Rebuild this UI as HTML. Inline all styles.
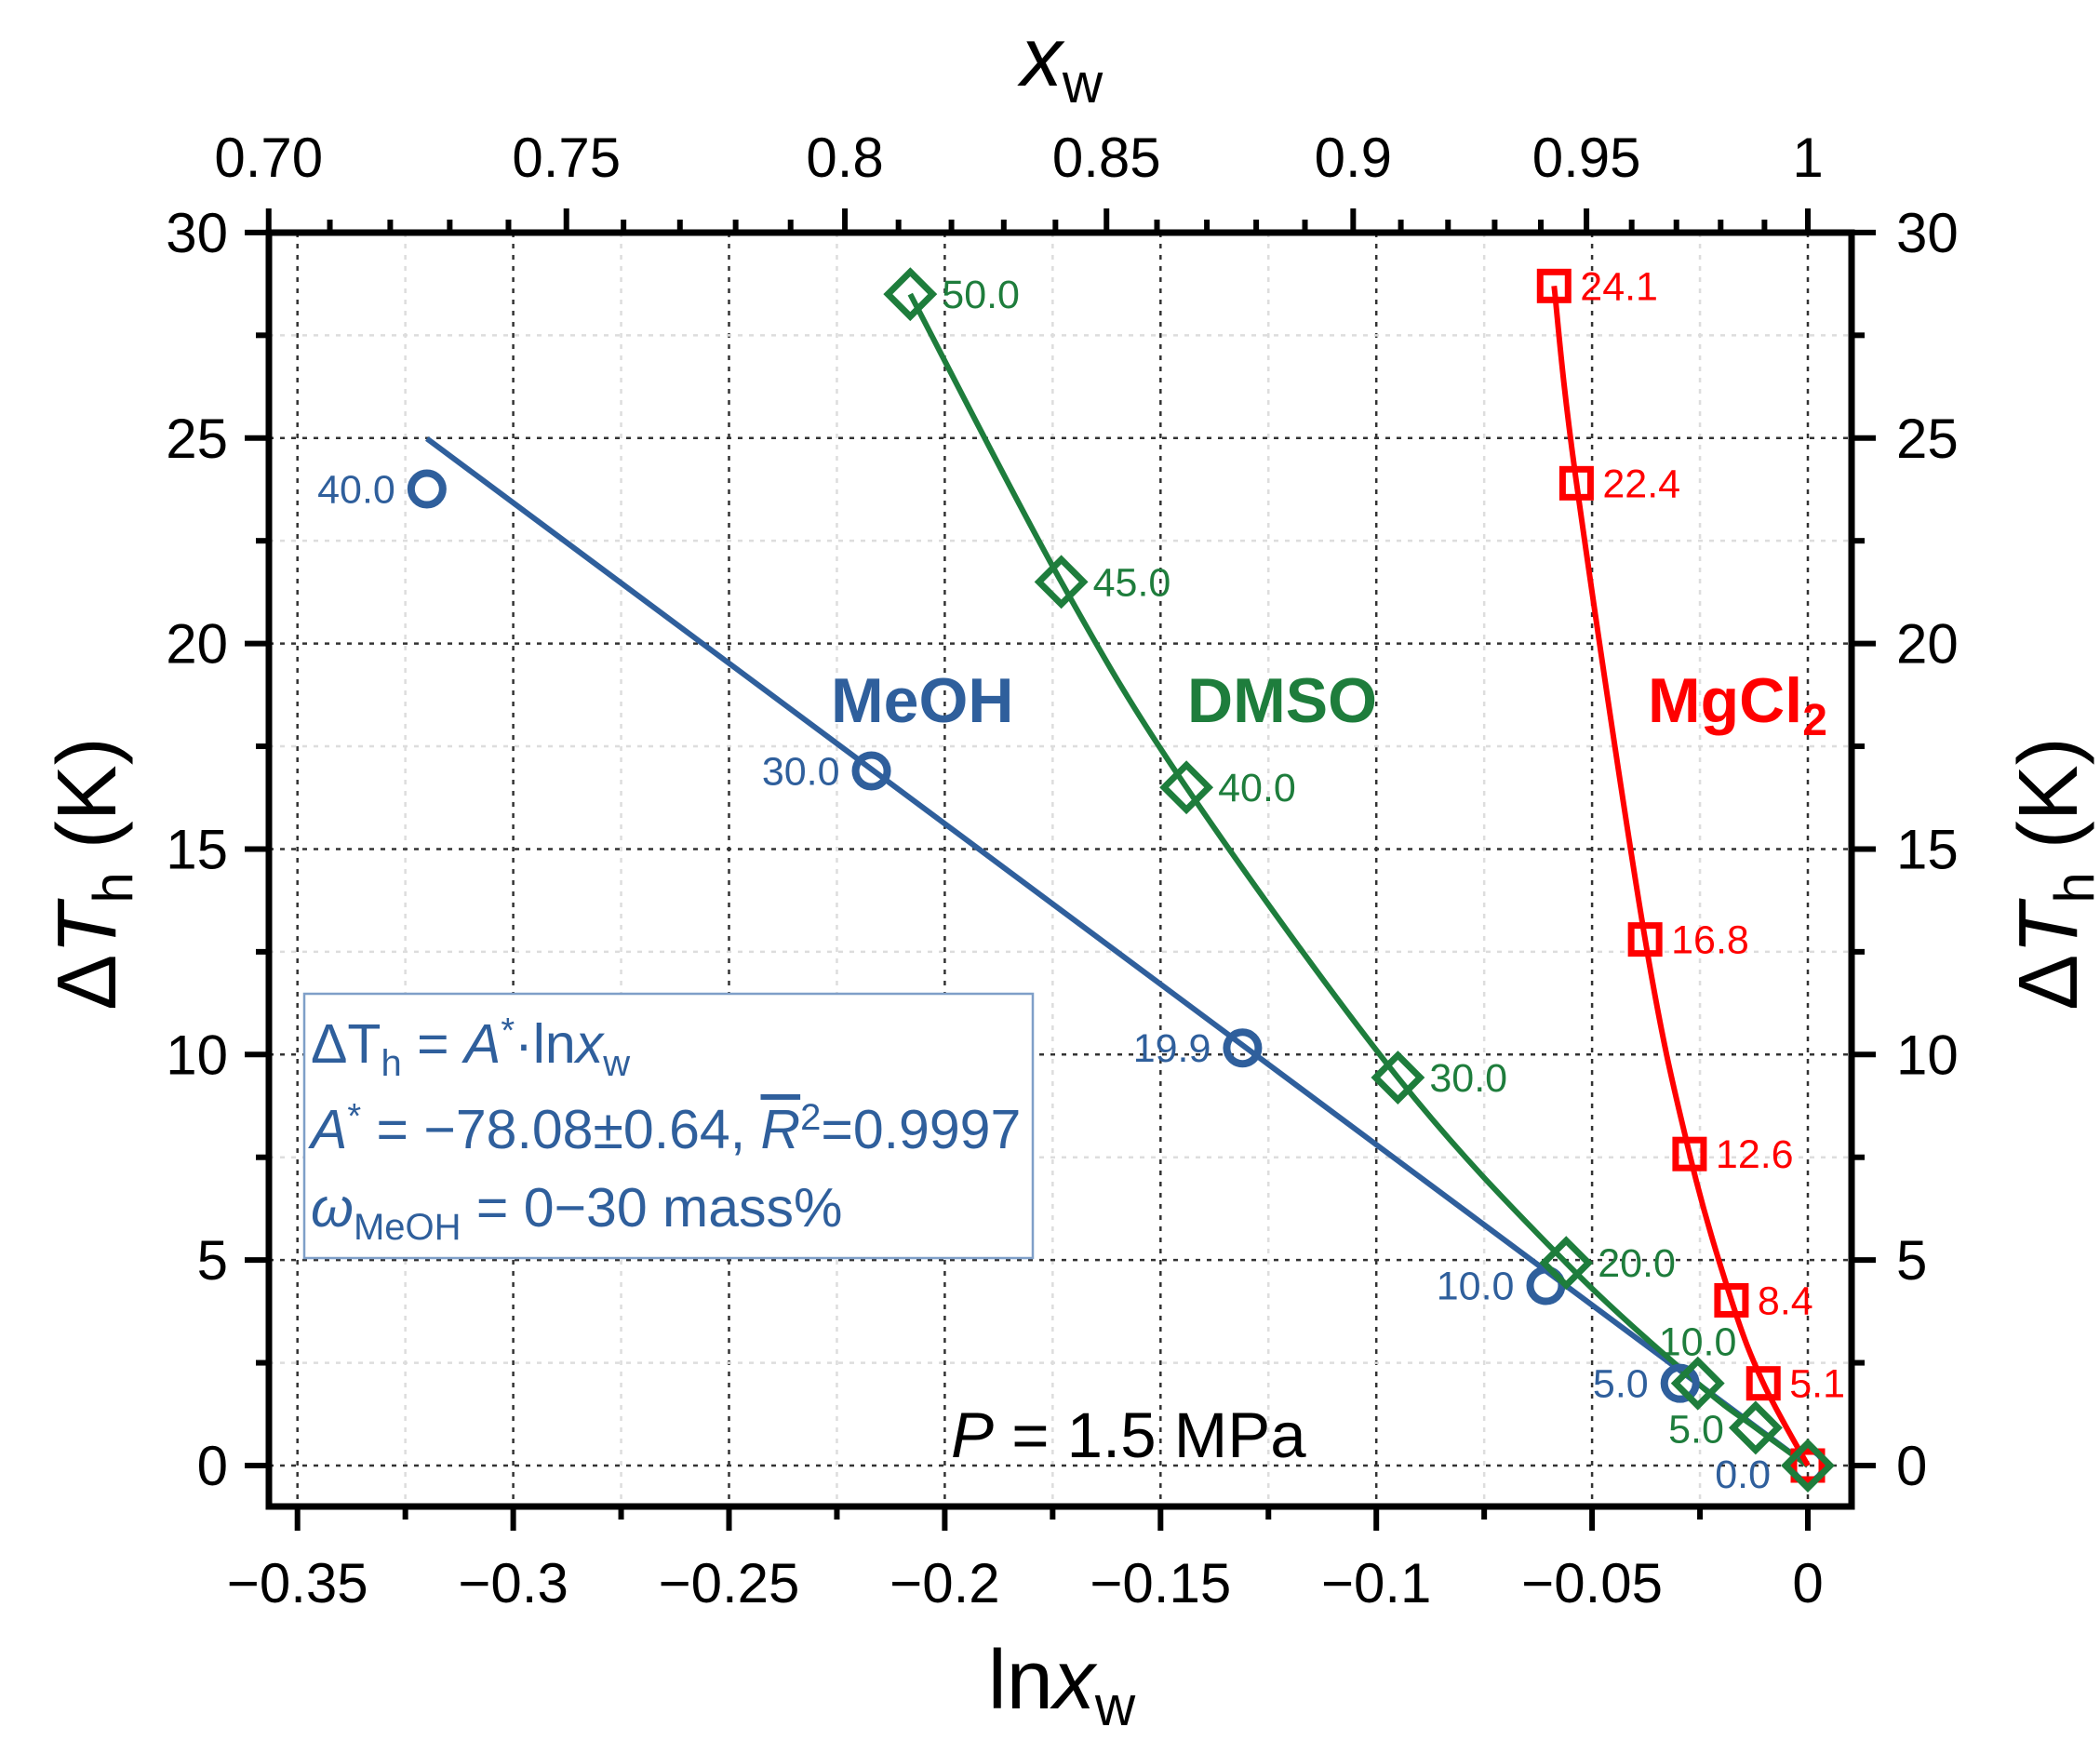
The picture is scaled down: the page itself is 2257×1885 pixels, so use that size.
<!DOCTYPE html>
<html><head><meta charset="utf-8"><style>
html,body{margin:0;padding:0;background:#fff;}
svg{display:block;font-family:"Liberation Sans",Arial,sans-serif;}
</style></head><body>
<svg id="chart" width="2257" height="1885" viewBox="0 0 2257 1885" xmlns="http://www.w3.org/2000/svg">
<g id="grid"></g>
<g id="axes"></g>
<g id="series"></g>
<g id="labels"></g>
<rect x="327" y="1068" width="783" height="284" fill="#fff" stroke="#7f9fc8" stroke-width="2.5"/>
<g fill="#2f5f9c" font-size="59">
<text x="334" y="1142">ΔT<tspan font-size="40" dy="14">h</tspan><tspan dy="-14"> = </tspan><tspan font-style="italic">A</tspan><tspan font-size="38" dy="-22">*</tspan><tspan dy="22">·ln</tspan><tspan font-style="italic">x</tspan><tspan font-size="40" dy="14">w</tspan></text>
<text x="334" y="1234"><tspan font-style="italic">A</tspan><tspan font-size="38" dy="-22">*</tspan><tspan dy="22"> = −78.08±0.64, </tspan><tspan font-style="italic" text-decoration="overline">R</tspan><tspan font-size="40" dy="-20">2</tspan><tspan dy="20">=0.9997</tspan></text>
<text x="334" y="1318"><tspan font-style="italic">ω</tspan><tspan font-size="40" dy="14">MeOH</tspan><tspan dy="-14"> = 0−30 mass%</tspan></text>
</g>
<text x="893" y="776" font-size="68" font-weight="bold" fill="#2f5f9c">MeOH</text>
<text x="1276" y="776" font-size="68" font-weight="bold" fill="#1e7d3c">DMSO</text>
<text x="1771" y="776" font-size="68" font-weight="bold" fill="#ff0000">MgCl<tspan font-size="48" dy="14">2</tspan></text>
<text x="1022" y="1566" font-size="69"><tspan font-style="italic">P</tspan> = 1.5 MPa</text>
<text x="1141" y="1836" font-size="90" text-anchor="middle">ln<tspan font-style="italic">x</tspan><tspan font-size="60" dy="18">w</tspan></text>
<text x="1141" y="92" font-size="90" text-anchor="middle"><tspan font-style="italic">x</tspan><tspan font-size="60" dy="18">w</tspan></text>
<text transform="translate(124,939) rotate(-90)" font-size="90" text-anchor="middle">Δ<tspan font-style="italic">T</tspan><tspan font-size="60" dy="18">h</tspan><tspan dy="-18"> (K)</tspan></text>
<text transform="translate(2232,939) rotate(-90)" font-size="90" text-anchor="middle">Δ<tspan font-style="italic">T</tspan><tspan font-size="60" dy="18">h</tspan><tspan dy="-18"> (K)</tspan></text>
</svg>
<script>
const xTicks=[-0.35,-0.3,-0.25,-0.2,-0.15,-0.1,-0.05,0];
const xTickLabels=["−0.35","−0.3","−0.25","−0.2","−0.15","−0.1","−0.05","0"];
const yTicks=[0,5,10,15,20,25,30];
const topTicks=[0.70,0.75,0.8,0.85,0.9,0.95,1];
const topTickLabels=["0.70","0.75","0.8","0.85","0.9","0.95","1"];
const meohX=[-0.320,-0.217,-0.131,-0.0607,-0.0296,0];
const meohY=[23.76,16.9,10.16,4.38,2.0,0];
const meohLbl=["40.0","30.0","19.9","10.0","5.0","0.0"];
const fitSlope=-78.08;
const fitRange=[-0.32,0];
const dmsoX=[-0.208,-0.173,-0.144,-0.095,-0.056,-0.0255,-0.0121,0];
const dmsoY=[28.5,21.5,16.5,9.44,4.93,2.0,0.92,0];
const dmsoLbl=["50.0","45.0","40.0","30.0","20.0","10.0","5.0",""];
const mgX=[-0.0588,-0.0536,-0.0377,-0.0274,-0.0177,-0.0103,0];
const mgY=[28.7,23.9,12.8,7.58,4.02,2.0,0];
const mgLbl=["24.1","22.4","16.8","12.6","8.4","5.1",""];

const NS="http://www.w3.org/2000/svg";
const L=289,R=1990,T=250,B=1619;
function X(v){return 1943+v*4638;}
function Y(v){return 1575-v*44.17;}
function mk(tag,attrs,parent){const e=document.createElementNS(NS,tag);for(const k in attrs)e.setAttribute(k,attrs[k]);parent.appendChild(e);return e;}
const grid=document.getElementById('grid'),axes=document.getElementById('axes'),series=document.getElementById('series'),labels=document.getElementById('labels');
for(let v=-0.35;v<=0.0001;v+=0.025){const maj=Math.abs(Math.round(v/0.05)*0.05-v)<1e-6;
 const g=mk('line',{x1:X(v),x2:X(v),y1:T,y2:B,stroke:maj?'#333':'#ddd','stroke-width':2.5,'stroke-dasharray':'5,7'},grid);
 }
for(let v=0;v<=30;v+=2.5){const maj=v%5===0;
 const g=mk('line',{x1:L,x2:R,y1:Y(v),y2:Y(v),stroke:maj?'#333':'#ddd','stroke-width':2.5,'stroke-dasharray':'5,7'},grid);
 }
const fr=mk('rect',{x:L,y:T,width:R-L,height:B-T,fill:'none',stroke:'#000','stroke-width':7},axes);

for(let v=-0.35;v<=0.0001;v+=0.025){const maj=Math.abs(Math.round(v/0.05)*0.05-v)<1e-6;
 const t=mk('line',{x1:X(v),x2:X(v),y1:B,y2:B+(maj?26:14),stroke:'#000','stroke-width':6},axes);
 }
xTicks.forEach((v,i)=>{const t=mk('text',{x:X(v),y:1722,'font-size':60,'text-anchor':'middle'},axes);t.textContent=xTickLabels[i];
 });
for(let v=0;v<=30;v+=2.5){const maj=v%5===0;
 const t=mk('line',{x1:L-(maj?26:14),x2:L,y1:Y(v),y2:Y(v),stroke:'#000','stroke-width':6},axes);
 
 const t2=mk('line',{x1:R,x2:R+(maj?26:14),y1:Y(v),y2:Y(v),stroke:'#000','stroke-width':6},axes);
 }
yTicks.forEach(v=>{const t=mk('text',{x:245,y:Y(v)+21,'font-size':60,'text-anchor':'end'},axes);t.textContent=String(v);
 
 const t2=mk('text',{x:2038,y:Y(v)+21,'font-size':60},axes);t2.textContent=String(v);
 });
for(let xw=0.70;xw<=1.0001;xw+=0.01){const maj=Math.abs(Math.round(xw/0.05)*0.05-xw)<1e-6;
 const t=mk('line',{x1:X(Math.log(xw)),x2:X(Math.log(xw)),y1:T,y2:T-(maj?26:14),stroke:'#000','stroke-width':6},axes);
 }
topTicks.forEach((v,i)=>{const t=mk('text',{x:X(Math.log(v)),y:190,'font-size':60,'text-anchor':'middle'},axes);t.textContent=topTickLabels[i];
 });
function spline(xs,ys){const p=xs.map((x,i)=>[X(x),Y(ys[i])]);let d='M'+p[0][0]+','+p[0][1];
 for(let i=0;i<p.length-1;i++){const p0=p[Math.max(i-1,0)],p1=p[i],p2=p[i+1],p3=p[Math.min(i+2,p.length-1)];
  const c1=[p1[0]+(p2[0]-p0[0])/6,p1[1]+(p2[1]-p0[1])/6],c2=[p2[0]-(p3[0]-p1[0])/6,p2[1]-(p3[1]-p1[1])/6];
  d+=' C'+c1+' '+c2+' '+p2;}return d;}
const fit=mk('line',{x1:X(fitRange[0]),y1:Y(fitSlope*fitRange[0]),x2:X(fitRange[1]),y2:Y(fitSlope*fitRange[1]),stroke:'#2f5f9c','stroke-width':6},series);

const dl=mk('path',{d:spline(dmsoX,dmsoY),fill:'none',stroke:'#1e7d3c','stroke-width':6},series);

const ml=mk('path',{d:spline(mgX,mgY),fill:'none',stroke:'#ff0000','stroke-width':6},series);

meohX.forEach((x,i)=>{const c=mk('circle',{cx:X(x),cy:Y(meohY[i]),r:17,fill:'none',stroke:'#2f5f9c','stroke-width':8},series);
 });
mgX.forEach((x,i)=>{const s=mk('rect',{x:X(x)-15,y:Y(mgY[i])-15,width:30,height:30,fill:'none',stroke:'#ff0000','stroke-width':7},series);
 });
dmsoX.forEach((x,i)=>{const cx=X(x),cy=Y(dmsoY[i]),r=24;
 const d=mk('polygon',{points:`${cx},${cy-r} ${cx+r},${cy} ${cx},${cy+r} ${cx-r},${cy}`,fill:'none',stroke:'#1e7d3c','stroke-width':7},series);
 });
function lbl(x,y,t,dx,dy,anchor,color,name){const e=mk('text',{x:X(x)+dx,y:Y(y)+dy,'font-size':43,fill:color,'text-anchor':anchor},labels);e.textContent=t;
 }
meohX.forEach((x,i)=>{const last=i===meohX.length-1;lbl(x,meohY[i],meohLbl[i],last?-40:-34,last?24:15,'end','#2f5f9c','meoh-point-label');});
dmsoX.forEach((x,i)=>{if(!dmsoLbl[i])return;
 if(i===5)lbl(x,dmsoY[i],dmsoLbl[i],-42,-30,'start','#1e7d3c','dmso-point-label');
 else if(i===6)lbl(x,dmsoY[i],dmsoLbl[i],-34,16,'end','#1e7d3c','dmso-point-label');
 else lbl(x,dmsoY[i],dmsoLbl[i],34,15,'start','#1e7d3c','dmso-point-label');});
mgX.forEach((x,i)=>{if(!mgLbl[i])return;lbl(x,mgY[i],mgLbl[i],28,15,'start','#ff0000','mgcl2-point-label');});
</script>
</body></html>
